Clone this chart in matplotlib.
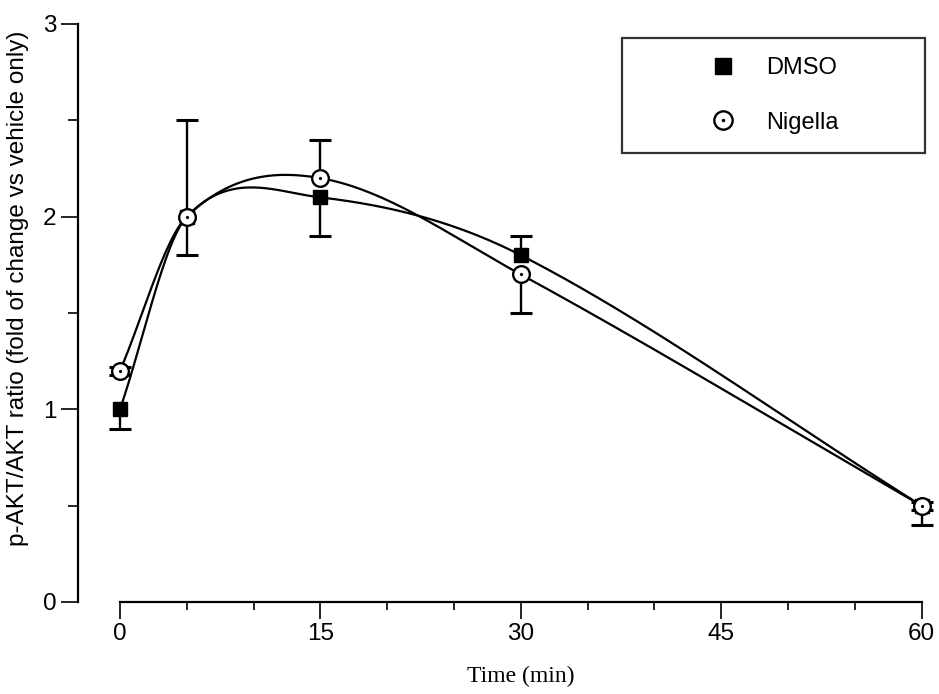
import numpy as np
import matplotlib
matplotlib.use("Agg")
import matplotlib.pyplot as plt

# time points (min)
time = np.array([0, 5, 15, 30, 60], dtype=float)

# DMSO: mean ratio and one-sided error bars
dmso = np.array([1.0, 2.0, 2.1, 1.8, 0.5])
dmso_lo = np.array([0.1, 0.2, 0.2, 0.0, 0.1])
dmso_hi = np.array([0.0, 0.0, 0.0, 0.1, 0.0])

# Nigella
nigella = np.array([1.2, 2.0, 2.2, 1.7, 0.5])
nig_lo = np.array([0.02, 0.0, 0.0, 0.2, 0.02])
nig_hi = np.array([0.02, 0.5, 0.2, 0.0, 0.02])

xticks = [0, 15, 30, 45, 60]
yticks = [0, 1, 2, 3]

FS = 17.5


def smooth_curve(x, y, xs):
    # cubic Hermite through the points, tangents from neighbouring points
    n = len(x)
    m = np.empty(n)
    m[0] = (y[1] - y[0]) / (x[1] - x[0])
    m[-1] = (y[-1] - y[-2]) / (x[-1] - x[-2])
    m[1:-1] = (y[2:] - y[:-2]) / (x[2:] - x[:-2])
    i = np.clip(np.searchsorted(x, xs, side="right") - 1, 0, n - 2)
    h = x[i + 1] - x[i]
    t = (xs - x[i]) / h
    h00 = 2 * t**3 - 3 * t**2 + 1
    h10 = t**3 - 2 * t**2 + t
    h01 = -2 * t**3 + 3 * t**2
    h11 = t**3 - t**2
    return h00 * y[i] + h10 * h * m[i] + h01 * y[i + 1] + h11 * h * m[i + 1]


def draw_errors(ax, x, y, lo, hi):
    for xv, yv, l, h in zip(x, y, lo, hi):
        if l > 0:
            ax.vlines(xv, yv - l, yv, color="black", lw=1.7, zorder=2)
            ax.plot(xv, yv - l, marker="_", ms=16, mew=2.2, color="black", zorder=2)
        if h > 0:
            ax.vlines(xv, yv, yv + h, color="black", lw=1.7, zorder=2)
            ax.plot(xv, yv + h, marker="_", ms=16, mew=2.2, color="black", zorder=2)


fig = plt.figure(figsize=(9.39, 6.94), dpi=100)
ax = fig.add_axes([78 / 939, 92 / 694, 857 / 939, 578 / 694])

xs = np.linspace(0, 60, 600)
ax.plot(xs, smooth_curve(time, dmso, xs), color="black", lw=1.6, zorder=1)
ax.plot(xs, smooth_curve(time, nigella, xs), color="black", lw=1.6, zorder=1)

draw_errors(ax, time, dmso, dmso_lo, dmso_hi)
draw_errors(ax, time, nigella, nig_lo, nig_hi)

h1, = ax.plot(time, dmso, ls="none", marker="s", ms=10, mfc="black",
              mec="black", zorder=3, clip_on=False)
h2, = ax.plot(time, nigella, ls="none", marker="o", ms=12, mfc="white",
              mec="black", mew=1.7, zorder=4, clip_on=False)
h3, = ax.plot(time, nigella, ls="none", marker="o", ms=2.3, mfc="black",
              mec="black", mew=0, zorder=5, clip_on=False)

ax.set_xlim(-3.14, 61)
ax.set_ylim(0, 3)

for side in ("top", "right"):
    ax.spines[side].set_visible(False)
ax.spines["left"].set_bounds(0, 3)
ax.spines["bottom"].set_bounds(0, 60)
ax.spines["left"].set_linewidth(1.6)
ax.spines["bottom"].set_linewidth(1.6)

ax.set_xticks(xticks)
ax.set_xticks(np.arange(0, 61, 5), minor=True)
ax.set_yticks(yticks)
ax.set_yticks([0.5, 1.5, 2.5], minor=True)
ax.tick_params(axis="both", which="major", length=12, width=1.2,
               labelsize=FS, labelfontfamily="Liberation Sans")
ax.tick_params(axis="x", which="minor", length=6, width=1.2)
ax.tick_params(axis="y", which="minor", length=7, width=1.2)
ax.tick_params(axis="x", which="major", pad=3)
ax.tick_params(axis="y", which="major", pad=3.5)

ax.set_xlabel("Time (min)", family="Liberation Serif", fontsize=17, va="center")
ax.xaxis.set_label_coords(0.5167, (602 - 676) / 578)
ax.set_ylabel("p-AKT/AKT ratio (fold of change vs vehicle only)",
              family="Liberation Sans", fontsize=FS, va="center")
ax.yaxis.set_label_coords((18 - 78) / 857, (602 - 288) / 578)

leg = ax.legend([h1, (h2, h3)], ["DMSO", "Nigella"], loc="upper left",
                mode="expand",
                bbox_to_anchor=(622 / 939, 0, 303 / 939, 1 - 38 / 694),
                bbox_transform=fig.transFigure,
                prop={"family": "Liberation Sans", "size": 17},
                frameon=True, fancybox=False, edgecolor="black",
                borderpad=0.82, labelspacing=1.37, handlelength=6.92,
                handletextpad=-1.63, borderaxespad=0, markerscale=1.1)
leg.get_frame().set_linewidth(1.6)

fig.savefig("out.png", dpi=100)
